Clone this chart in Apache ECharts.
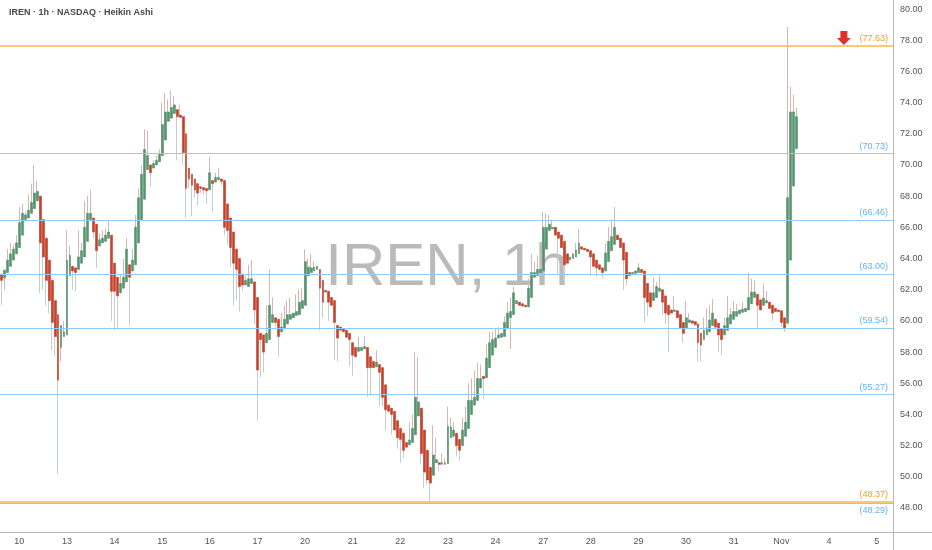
<!DOCTYPE html>
<html>
<head>
<meta charset="utf-8">
<script src="https://cdn.jsdelivr.net/npm/echarts@6/dist/echarts.min.js"></script>
<style>
  html, body { margin: 0; padding: 0; background: #fff; }
  #chart { width: 932px; height: 550px; }
</style>
</head>
<body>
<div id="chart"></div>
<script>
// IREN 1h Heikin Ashi candles, one value per hourly bar
const haOpen = [
  63.0,62.75,63.1,63.5,63.9,64.3,64.7,65.5,66.5,66.6,
  66.9,67.2,67.7,68.0,66.5,65.3,63.9,62.6,61.3,60.4,
  58.3,59.0,59.1,62.9,63.5,63.4,63.3,63.7,64.1,65.1,
  66.5,66.6,66.2,64.8,65.0,65.1,65.3,65.5,63.7,62.8,
  61.8,62.1,62.5,63.6,63.2,63.6,65.0,66.5,67.8,69.7,
  70.0,69.8,70.0,70.2,70.6,71.6,72.8,73.0,73.3,73.55,
  73.2,73.1,72.0,69.8,69.4,69.1,68.8,68.6,68.55,68.5,
  68.4,69.0,68.9,69.05,69.1,69.0,67.5,66.6,65.7,64.6,
  64.0,63.0,62.3,62.2,62.4,62.5,61.5,59.2,59.1,58.6,
  58.8,59.9,60.2,60.1,59.3,59.5,59.8,60.1,60.2,60.35,
  60.4,60.8,61.0,62.9,63.1,63.2,63.3,63.3,62.6,61.95,
  61.9,61.5,61.3,59.7,59.6,59.5,59.4,59.2,58.6,58.3,
  58.05,58.1,58.2,58.3,57.7,57.4,57.05,57.2,57.0,55.9,
  54.6,54.4,54.2,53.6,53.1,52.8,52.2,52.05,52.2,52.7,
  53.9,54.4,53.0,51.7,50.6,50.1,50.9,50.9,50.8,50.8,
  50.85,52.5,52.6,52.8,52.4,52.0,52.6,53.1,54.0,54.6,
  54.9,55.7,56.45,56.35,57.0,57.8,58.3,58.9,58.95,59.0,
  59.5,60.2,60.4,61.1,61.2,61.1,61.0,60.9,61.5,62.8,
  62.9,63.1,63.2,64.6,65.8,65.9,66.0,65.7,65.5,65.1,
  64.3,63.9,64.0,64.1,64.3,64.75,64.65,64.6,64.5,64.3,
  63.9,63.6,63.4,63.2,63.8,64.5,64.9,65.5,65.3,65.0,
  64.4,63.1,63.0,63.05,63.1,63.3,63.2,62.4,61.8,61.3,
  61.5,61.9,62.0,61.6,61.0,60.7,60.6,60.65,60.4,59.9,
  59.5,59.9,60.0,59.95,59.8,59.2,58.8,59.1,59.3,59.7,
  60.1,59.85,59.5,59.1,59.4,59.8,60.1,60.3,60.45,60.55,
  60.6,60.7,61.1,61.5,61.7,61.35,61.0,61.15,61.2,61.0,
  60.8,60.7,60.65,60.2,59.85,63.9,68.65,71.05
];
const haClose = [
  62.6,63.25,63.9,64.3,64.6,65.0,66.3,66.9,66.8,67.1,
  67.6,68.2,68.3,65.0,64.1,62.6,61.3,59.9,59.0,56.2,
  59.7,59.3,63.9,64.2,63.2,63.1,64.1,64.5,66.0,66.9,
  66.9,65.7,64.5,65.2,65.3,65.5,65.7,61.9,61.9,61.6,
  62.4,62.8,64.6,62.8,63.9,66.0,67.9,69.4,71.0,70.6,
  69.5,70.1,70.3,70.7,72.6,73.4,73.4,73.7,73.85,73.1,
  73.05,70.8,68.5,69.1,68.7,68.4,68.2,68.5,68.4,68.35,
  69.5,68.8,69.2,69.2,68.95,66.0,65.8,64.7,63.7,63.3,
  62.2,62.3,62.6,62.7,62.7,60.7,56.85,58.8,58.0,59.2,
  61.0,60.4,59.9,59.0,59.6,60.1,60.4,60.4,60.5,60.6,
  61.2,61.3,63.8,63.45,63.4,63.45,63.5,62.1,61.2,61.85,
  61.2,61.0,59.9,58.9,59.4,59.3,58.95,58.8,57.8,57.7,
  58.3,58.3,58.35,57.0,57.0,57.0,57.35,56.7,55.1,54.3,
  54.2,54.0,53.0,52.5,52.4,51.7,51.9,52.35,53.1,55.1,
  54.8,51.5,50.3,49.8,49.6,51.4,51.1,50.8,50.9,50.9,
  53.25,53.2,53.0,52.0,51.7,53.0,53.5,54.9,54.9,55.1,
  56.3,56.3,56.3,57.6,58.6,58.8,58.9,59.1,59.2,59.9,
  60.5,60.6,61.8,61.3,61.0,60.95,60.9,62.1,63.1,63.1,
  63.3,63.3,66.0,66.0,66.2,66.0,65.5,65.3,64.7,63.6,
  63.7,64.1,64.3,64.55,65.0,64.6,64.55,64.45,64.1,63.5,
  63.4,63.3,63.1,64.35,65.1,65.4,66.0,65.2,64.7,63.9,
  62.7,62.9,63.1,63.2,63.4,63.1,61.5,61.2,60.9,61.8,
  62.2,62.1,61.2,60.5,60.4,60.5,60.7,60.2,59.55,59.2,
  60.2,60.06,59.85,59.75,58.6,58.45,59.4,59.55,60.06,60.5,
  59.6,59.1,58.8,59.7,60.2,60.4,60.6,60.6,60.7,60.75,
  60.8,61.5,61.85,61.85,61.0,60.7,61.45,61.3,60.8,60.5,
  60.6,60.6,59.9,59.5,67.9,73.4,73.4,73.1
];
// wick ends; null = no visible wick on that side
const haLow = [
  61.0,62.0,null,null,null,null,null,null,null,null,
  null,null,null,61.8,62.0,61.0,60.5,58.1,57.7,50.2,
  57.4,null,null,null,62.0,61.9,null,null,null,null,
  null,65.3,63.4,null,null,null,null,60.0,59.4,59.5,
  null,null,null,59.7,null,null,null,null,null,null,
  68.6,null,null,null,null,null,null,null,null,70.3,
  null,70.0,66.6,68.5,66.7,67.9,67.4,68.2,68.1,67.5,
  null,67.0,null,null,68.7,65.5,64.9,63.5,61.0,61.3,
  60.6,61.9,null,null,null,59.8,53.6,56.4,56.7,null,
  null,null,59.6,57.7,null,null,null,null,null,null,
  null,null,null,null,null,null,null,59.4,60.2,null,
  60.0,null,57.5,57.4,null,null,null,57.1,56.5,null,
  null,null,null,55.1,55.2,null,null,54.5,54.5,53.0,
  null,52.7,null,51.8,50.9,51.2,null,null,null,null,
  null,50.8,49.3,49.5,48.3,null,null,50.4,null,null,
  null,null,null,51.3,51.0,null,null,null,null,null,
  null,null,55.0,null,null,null,null,null,null,null,
  null,58.2,null,null,null,null,null,null,null,null,
  null,null,null,null,null,null,null,63.0,null,62.6,
  null,null,null,null,null,null,null,null,62.9,null,
  62.8,null,62.7,null,null,null,null,null,null,62.0,
  62.3,null,null,null,null,null,59.9,60.3,null,null,
  null,null,60.4,59.8,58.0,null,null,null,null,58.6,
  null,null,null,null,57.4,57.4,null,null,null,null,
  null,58.0,57.8,null,null,null,null,null,null,null,
  null,null,null,null,59.5,null,null,null,null,60.0,
  null,null,59.6,59.3,null,null,null,null
];
const haHigh = [
  null,63.3,64.6,65.0,64.9,65.5,67.3,67.5,67.0,68.1,
  68.8,70.0,69.0,null,null,null,null,null,null,null,
  null,60.0,65.8,64.8,null,null,65.8,65.0,67.7,68.0,
  68.4,null,null,65.6,65.8,65.9,66.4,null,null,null,
  63.0,64.0,65.3,null,64.6,66.8,68.5,70.0,72.3,72.2,
  null,70.3,70.6,71.0,74.0,74.6,74.2,74.8,74.4,null,
  73.9,null,null,null,null,null,null,null,null,null,
  70.5,null,69.5,69.8,null,null,null,null,null,null,
  null,null,62.9,63.6,63.9,null,null,null,null,61.0,
  63.3,61.5,null,null,60.5,61.0,61.3,61.5,null,61.7,
  62.0,62.1,64.6,64.0,64.3,63.8,null,null,null,null,
  null,null,null,null,null,null,null,null,null,null,
  59.0,null,59.0,null,null,null,58.1,null,null,null,
  null,null,null,null,null,null,null,53.5,54.0,58.0,
  57.7,null,null,null,null,53.3,52.5,null,51.5,51.2,
  54.5,53.8,53.5,null,null,53.8,54.5,56.0,56.3,56.8,
  57.3,57.2,null,58.5,59.3,59.3,59.5,59.6,null,60.3,
  61.2,61.5,62.2,null,null,null,null,62.7,64.3,63.8,
  64.2,63.7,67.0,66.9,66.8,66.5,null,null,null,null,
  null,null,null,65.0,65.9,null,null,null,null,null,
  null,null,null,65.0,66.0,66.5,67.3,null,null,null,
  null,null,null,null,63.7,null,null,null,null,62.8,
  62.5,62.9,null,null,null,null,61.6,null,null,null,
  61.3,60.5,null,null,null,null,60.2,60.8,61.0,61.4,
  null,null,null,60.2,61.6,60.8,61.3,61.1,null,61.2,
  null,63.1,62.7,62.6,null,null,62.4,61.9,null,null,
  null,null,null,null,78.85,75.0,74.5,73.7
];

// session labels on the time axis (16 hourly bars per day, first label on bar 6)
const dayLabels = ['10','13','14','15','16','17','20','21','22','23','24','27','28','29','30','31','Nov','4','5'];
const firstLabelBar = 6;
const barsPerDay = 16;
const slotCount = 300; // bars + empty space to the right

const priceTicks = [48,50,52,54,56,58,60,62,64,66,68,70,72,74,76,78,80];
const blueLevels = [70.73, 66.46, 63.00, 59.54, 55.27, 48.29];
const orangeLevels = [77.63, 48.37];
const arrowPoint = ['283', 78.15];

const UP = '#55946e', DOWN = '#c8402b';
const WICK_UP = '#d6b5b5', WICK_DOWN = '#c4cfcb';
const BLUE = '#90caf9', BLUE_TXT = '#64b5f6', ORANGE = '#ffb347', ORANGE_TXT = '#f5a020';
const FONT = 'Liberation Sans';

const slots = [];
for (let i = 0; i < slotCount; i++) slots.push(String(i));

const full = haOpen.map((o, i) => {
  const c = haClose[i];
  const l = haLow[i] == null ? Math.min(o, c) : haLow[i];
  const h = haHigh[i] == null ? Math.max(o, c) : haHigh[i];
  return [o, c, l, h];
});
const bodies = haOpen.map((o, i) => {
  const c = haClose[i];
  return [o, c, Math.min(o, c), Math.max(o, c)];
});

const isLabelSlot = (idx) => idx >= firstLabelBar && (idx - firstLabelBar) % barsPerDay === 0;

const levelLines = [];
blueLevels.forEach((v, k) => {
  const below = k === blueLevels.length - 1;
  levelLines.push({
    yAxis: v,
    lineStyle: { color: BLUE, width: 1.2, type: 'solid' },
    label: {
      show: true, position: below ? 'insideEndBottom' : 'insideEndTop',
      formatter: '(' + v.toFixed(2) + ')', color: BLUE_TXT, fontSize: 9, fontFamily: FONT,
      distance: [5, 3]
    }
  });
});
orangeLevels.forEach((v) => {
  levelLines.push({
    yAxis: v,
    lineStyle: { color: ORANGE, width: 1.6, type: 'solid' },
    label: {
      show: true, position: 'insideEndTop',
      formatter: '(' + v.toFixed(2) + ')', color: ORANGE_TXT, fontSize: 9, fontFamily: FONT,
      distance: [5, 3]
    }
  });
});

const chart = echarts.init(document.getElementById('chart'), null, { renderer: 'canvas' });
chart.setOption({
  animation: false,
  backgroundColor: '#ffffff',
  title: {
    text: 'IREN · 1h · NASDAQ · Heikin Ashi',
    left: 4, top: 3,
    textStyle: { fontSize: 9, fontWeight: 'bold', color: '#4a4a4a', fontFamily: FONT }
  },
  graphic: [
    {
      type: 'text', x: 447, y: 268, z: 0, silent: true,
      style: {
        text: 'IREN, 1h', align: 'center', verticalAlign: 'middle',
        font: '60px "Liberation Sans"', fill: 'rgba(140,140,140,0.6)'
      }
    },
    {
      type: 'line', silent: true, z: 0,
      shape: { x1: 893.5, y1: 532, x2: 893.5, y2: 550 },
      style: { stroke: '#b8b8b8', lineWidth: 1 }
    },
    {
      type: 'line', silent: true, z: 0,
      shape: { x1: 893, y1: 532.5, x2: 932, y2: 532.5 },
      style: { stroke: '#b8b8b8', lineWidth: 1 }
    }
  ],
  grid: { left: 0, right: 39, top: 0, bottom: 18, containLabel: false },
  xAxis: {
    type: 'category',
    data: slots,
    boundaryGap: true,
    axisLine: { show: true, lineStyle: { color: '#b8b8b8', width: 1 } },
    axisTick: { show: false },
    splitLine: { show: false },
    axisLabel: {
      interval: (idx) => isLabelSlot(idx),
      formatter: (val, idx) => isLabelSlot(idx) ? dayLabels[(idx - firstLabelBar) / barsPerDay] : '',
      color: '#555', fontSize: 9, fontFamily: FONT, margin: 5
    }
  },
  yAxis: {
    type: 'value',
    position: 'right',
    scale: true,
    min: 46.46, max: 80.58,
    axisLine: { show: true, lineStyle: { color: '#b8b8b8', width: 1 } },
    axisTick: { show: false },
    splitLine: { show: false },
    axisLabel: {
      customValues: priceTicks,
      formatter: (v) => v.toFixed(2),
      color: '#555', fontSize: 9, fontFamily: FONT, margin: 7
    }
  },
  series: [
    {
      name: 'wicks',
      type: 'candlestick',
      data: full,
      barWidth: 1,
      z: 3,
      itemStyle: {
        color: WICK_UP, color0: WICK_DOWN,
        borderColor: WICK_UP, borderColor0: WICK_DOWN, borderWidth: 1
      },
      markLine: {
        silent: true, symbol: 'none', animation: false,
        data: levelLines
      }
    },
    {
      name: 'bodies',
      type: 'candlestick',
      data: bodies,
      barWidth: 2.4,
      z: 4,
      itemStyle: {
        color: UP, color0: DOWN,
        borderColor: UP, borderColor0: DOWN, borderWidth: 0.6
      }
    },
    {
      name: 'signal',
      type: 'scatter',
      data: [arrowPoint],
      z: 6,
      symbol: 'path://M3,0 L9,0 L9,6 L12,6 L6,12 L0,6 L3,6 Z',
      symbolSize: [14, 14],
      itemStyle: { color: '#e0302a', opacity: 1 }
    }
  ]
});
</script>
</body>
</html>
